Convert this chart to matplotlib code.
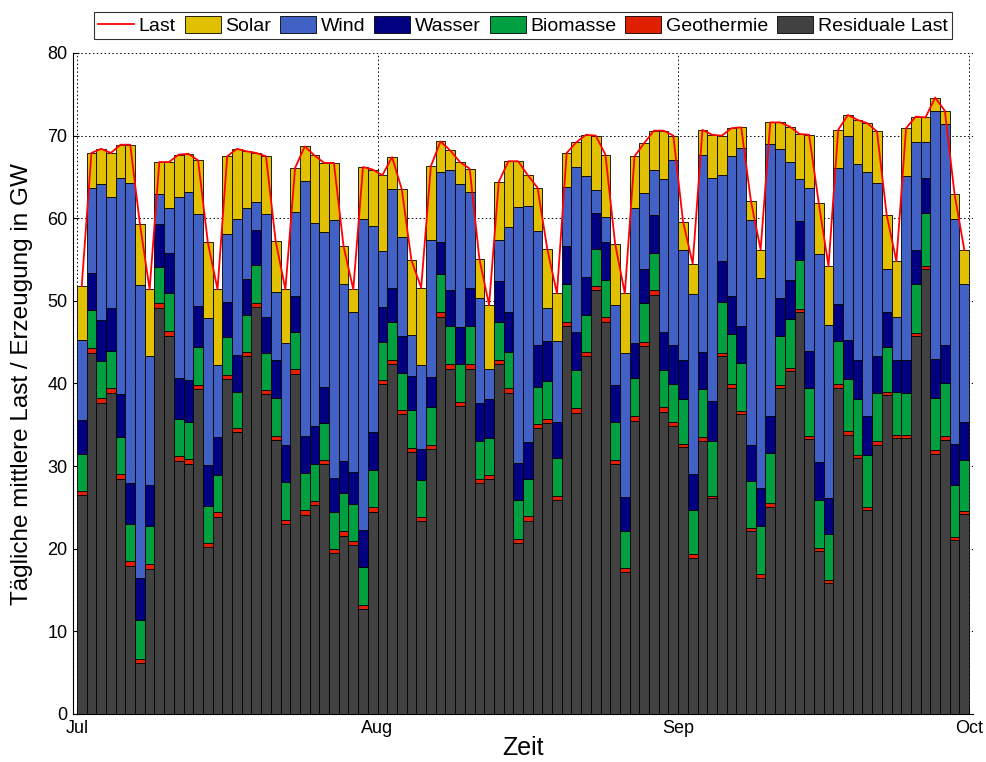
import numpy as np
import matplotlib
matplotlib.use('Agg')
from matplotlib import pyplot as plt
from matplotlib.lines import Line2D
from matplotlib.patches import Patch

plt.rcParams['font.family'] = ['Liberation Sans', 'DejaVu Sans']

# Tageswerte 1. Juli - 30. September, GW
residual = [26.5, 43.7, 37.7, 38.9, 28.5, 17.9, 6.2, 17.6, 49.1, 45.8,
            30.6, 30.3, 39.3, 20.2, 23.9, 40.5, 34.1, 43.3, 49.3, 38.7,
            33.2, 23.0, 41.1, 24.1, 25.3, 30.2, 19.5, 21.6, 20.4, 12.7,
            24.5, 39.9, 42.4, 36.3, 31.7, 23.3, 32.1, 48.1, 41.8, 37.3,
            41.8, 27.9, 28.4, 42.3, 38.9, 20.7, 23.4, 34.6, 35.2, 25.9,
            46.9, 36.4, 43.3, 51.3, 47.4, 30.2, 17.2, 35.5, 44.5, 50.7,
            36.5, 34.8, 32.3, 18.9, 33.1, 26.1, 43.3, 39.5, 36.3, 22.1,
            16.5, 25.1, 39.4, 41.5, 48.6, 33.3, 19.7, 15.8, 39.5, 33.8,
            31.0, 24.7, 32.6, 38.6, 33.4, 33.4, 45.7, 53.8, 31.5, 33.2,
            21.1, 24.2]
geothermie = [0.5, 0.6, 0.5, 0.5, 0.5, 0.6, 0.5, 0.5, 0.6, 0.6,
              0.6, 0.6, 0.5, 0.5, 0.5, 0.5, 0.5, 0.5, 0.5, 0.5,
              0.5, 0.5, 0.6, 0.6, 0.5, 0.5, 0.5, 0.5, 0.5, 0.5,
              0.5, 0.5, 0.5, 0.5, 0.5, 0.5, 0.5, 0.5, 0.5, 0.5,
              0.5, 0.5, 0.5, 0.5, 0.5, 0.5, 0.6, 0.5, 0.5, 0.5,
              0.5, 0.6, 0.5, 0.5, 0.6, 0.5, 0.5, 0.6, 0.5, 0.6,
              0.6, 0.6, 0.4, 0.5, 0.4, 0.3, 0.4, 0.4, 0.4, 0.4,
              0.4, 0.4, 0.4, 0.4, 0.4, 0.4, 0.4, 0.4, 0.4, 0.4,
              0.4, 0.4, 0.4, 0.4, 0.4, 0.4, 0.4, 0.4, 0.4, 0.4,
              0.3, 0.4]
biomasse = [4.5, 4.6, 4.5, 4.5, 4.5, 4.5, 4.7, 4.7, 4.4, 4.6,
            4.5, 4.5, 4.6, 4.5, 4.5, 4.6, 4.4, 4.5, 4.6, 4.5,
            4.5, 4.6, 4.5, 4.5, 4.5, 4.5, 4.5, 4.6, 4.5, 4.6,
            4.5, 4.6, 4.6, 4.5, 4.6, 4.5, 4.5, 4.6, 4.6, 4.5,
            4.6, 4.6, 4.5, 4.6, 4.4, 4.7, 4.4, 4.5, 4.6, 4.6,
            4.6, 4.6, 4.5, 4.5, 4.5, 4.6, 4.5, 4.6, 4.7, 4.5,
            4.5, 4.5, 5.4, 5.3, 5.8, 6.6, 6.2, 6.1, 5.8, 5.7,
            5.8, 6.1, 5.9, 5.9, 6.0, 5.8, 5.8, 5.6, 5.2, 6.3,
            6.7, 6.2, 5.8, 5.4, 5.2, 5.1, 6.0, 6.4, 6.4, 6.4,
            6.3, 6.2]
wasser = [4.1, 4.5, 5.0, 5.2, 5.2, 4.9, 5.1, 4.9, 5.2, 4.8,
          5.0, 5.0, 5.0, 4.9, 4.6, 4.3, 4.4, 4.3, 4.2, 4.4,
          4.7, 4.4, 4.4, 4.5, 4.5, 4.4, 4.1, 3.9, 3.9, 4.5,
          4.6, 4.2, 4.1, 4.4, 4.1, 3.8, 3.7, 3.9, 4.4, 4.5,
          4.6, 4.6, 4.7, 5.0, 4.9, 4.5, 4.5, 5.1, 4.8, 4.3,
          4.6, 4.6, 4.6, 4.3, 4.6, 4.5, 4.1, 4.2, 4.1, 4.6,
          4.6, 4.8, 4.7, 4.4, 4.5, 4.9, 4.9, 4.6, 4.4, 4.4,
          4.7, 4.5, 4.7, 4.7, 4.7, 4.4, 4.6, 4.4, 4.5, 4.8,
          4.8, 4.8, 4.5, 4.2, 3.9, 4.0, 4.0, 4.3, 4.7, 4.7,
          5.0, 4.5]
wind = [9.7, 10.3, 16.4, 13.5, 26.2, 36.4, 35.4, 15.6, 3.6, 5.4,
        21.9, 22.8, 11.1, 17.8, 8.7, 8.2, 16.5, 8.6, 3.4, 12.4,
        8.2, 12.4, 10.1, 30.8, 24.6, 18.7, 31.2, 21.5, 19.3, 37.6,
        25.0, 6.8, 11.9, 12.0, 5.0, 10.1, 16.6, 8.5, 14.6, 17.4,
        11.7, 12.8, 3.7, 5.0, 10.3, 31.0, 28.6, 13.8, 4.0, 9.8,
        7.2, 20.0, 12.2, 2.8, 3.0, 9.7, 17.4, 16.3, 9.2, 5.4,
        18.6, 22.3, 13.4, 21.7, 23.8, 27.0, 10.4, 16.9, 21.6, 27.2,
        25.4, 32.9, 18.0, 14.3, 5.1, 19.8, 25.2, 20.9, 16.5, 24.6,
        23.7, 29.5, 21.0, 5.3, 5.2, 22.2, 13.1, 4.3, 30.0, 26.7,
        27.2, 16.8]
solar = [6.5, 4.2, 4.3, 5.3, 4.0, 4.6, 7.4, 8.1, 3.9, 5.6,
         5.1, 4.6, 6.5, 9.2, 9.2, 9.4, 8.5, 6.9, 5.9, 7.0,
         6.1, 6.5, 5.4, 4.2, 8.2, 8.4, 6.9, 4.5, 2.8, 6.3,
         6.8, 9.2, 3.9, 5.8, 9.0, 9.4, 8.9, 3.7, 2.3, 2.6,
         2.8, 4.7, 7.7, 7.0, 7.9, 5.5, 3.7, 5.2, 7.2, 5.8,
         4.1, 3.0, 5.0, 6.6, 7.6, 7.4, 7.2, 6.3, 6.1, 4.8,
         5.8, 3.0, 3.4, 3.7, 3.1, 5.2, 4.8, 3.4, 2.5, 2.3,
         3.4, 2.6, 3.2, 4.3, 5.4, 6.4, 6.1, 7.1, 4.6, 2.6,
         5.3, 5.9, 6.2, 6.5, 6.7, 5.8, 3.1, 3.0, 1.6, 1.6,
         3.0, 4.1]

month_pos = [0, 31, 62, 92]
month_labels = ['Jul', 'Aug', 'Sep', 'Oct']

series = [('Residuale Last', residual, '#414141'),
          ('Geothermie', geothermie, '#e02000'),
          ('Biomasse', biomasse, '#00a040'),
          ('Wasser', wasser, '#000080'),
          ('Wind', wind, '#4162c4'),
          ('Solar', solar, '#e0c000')]

days = np.arange(len(residual))
fig = plt.figure(figsize=(9.86, 7.62), dpi=100)
ax = fig.add_axes([73 / 986, 48 / 762, 900 / 986, 661 / 762])

bottom = np.zeros(len(days))
for name, vals, col in series:
    vals = np.array(vals)
    ax.bar(days, vals, width=1.0, bottom=bottom, align='edge', color=col,
           edgecolor='black', linewidth=0.6, zorder=2)
    bottom = bottom + vals
last = bottom
ax.plot(days + 0.5, last, color='#ff0000', lw=1.3, zorder=3)

ax.set_xlim(-0.4, 92.4)
ax.set_ylim(0, 80)
ax.set_xticks(month_pos)
ax.set_xticklabels(month_labels)
ax.set_yticks(np.arange(0, 81, 10))
ax.tick_params(direction='in', length=4, labelsize=13, pad=4)
ax.set_axisbelow(True)
ax.grid(True, color='black', linestyle=(0, (1.5, 2.5)), linewidth=0.7)
ax.spines['top'].set_visible(False)
ax.spines['right'].set_visible(False)

fig.text(0.022, 378 / 762, 'Tägliche mittlere Last / Erzeugung in GW', rotation=90,
         ha='center', va='center', fontsize=17.5)
fig.text(523 / 986, 1 - 748 / 762, 'Zeit', ha='center', va='center', fontsize=18)

handles = [Line2D([], [], color='#ff0000', lw=1.3)]
labels = ['Last']
for name, vals, col in series[::-1]:
    handles.append(Patch(facecolor=col, edgecolor='black', linewidth=0.6))
    labels.append(name)
leg = ax.legend(handles, labels, loc='lower center', bbox_to_anchor=(0.5, 1.021),
                ncol=7, fontsize=14, frameon=True, fancybox=False,
                edgecolor='black', borderaxespad=0, handlelength=1.85,
                handleheight=1.0, handletextpad=0.25, columnspacing=0.45,
                borderpad=0.2)
leg.get_frame().set_linewidth(0.8)

fig.savefig('out.png', dpi=100)
